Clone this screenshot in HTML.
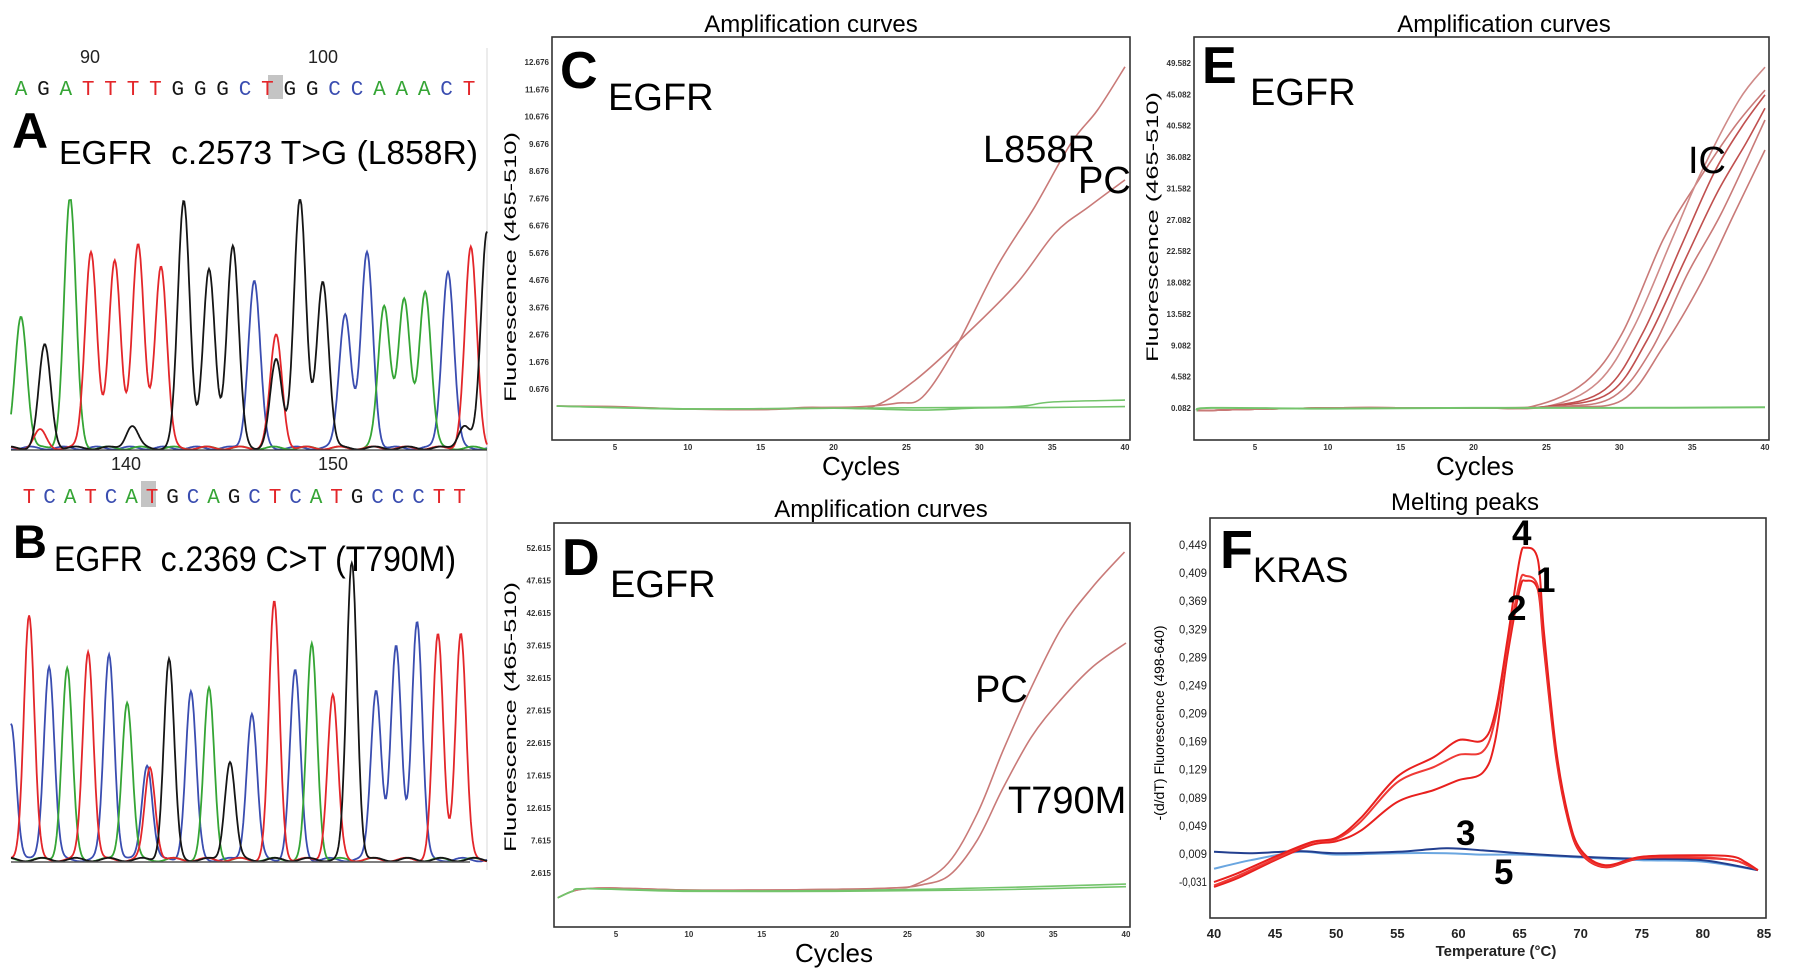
<!DOCTYPE html>
<html><head><meta charset="utf-8"><style>
html,body{margin:0;padding:0;background:#fff;}
svg{display:block;font-family:"Liberation Sans",sans-serif;}
.tk{font-size:8px;font-weight:bold;fill:#333;}
</style></head><body>
<svg id="fig" width="1795" height="979" viewBox="0 0 1795 979" xmlns="http://www.w3.org/2000/svg">
<rect width="1795" height="979" fill="#fff"/>
<line x1="487" y1="48" x2="487" y2="870" stroke="#e6e6e6" stroke-width="1.5"/>
<!-- Panel A -->
<text x="90" y="63" font-size="18" text-anchor="middle" fill="#222">90</text>
<text x="323" y="63" font-size="18" text-anchor="middle" fill="#222">100</text>
<rect x="268" y="75" width="15" height="24" fill="#c4c4c4"/>
<g id="seqA"></g>
<text x="12" y="148" font-size="50" font-weight="bold">A</text>
<text x="59" y="164" font-size="33" textLength="419" lengthAdjust="spacingAndGlyphs">EGFR&#160; c.2573 T&gt;G (L858R)</text>
<g id="chromA"></g>
<line x1="11" y1="450" x2="487" y2="450" stroke="#333" stroke-width="1.2"/>
<!-- Panel B -->
<text x="126" y="470" font-size="18" text-anchor="middle" fill="#222">140</text>
<text x="333" y="470" font-size="18" text-anchor="middle" fill="#222">150</text>
<rect x="141" y="481" width="15" height="26" fill="#c4c4c4"/>
<g id="seqB"></g>
<text x="13" y="558" font-size="47" font-weight="bold">B</text>
<text x="54" y="571" font-size="35" textLength="402" lengthAdjust="spacingAndGlyphs">EGFR&#160; c.2369 C&gt;T (T790M)</text>
<g id="chromB"></g>
<line x1="11" y1="862" x2="470" y2="862" stroke="#555" stroke-width="1.5"/>
<g id="panels"></g>
</svg>
<script>
// ---------- Sequence data ----------
const seqA = "AGATTTTGGGCTGGCCAAACT";
const seqB = "TCATCATGCAGCTCATGCCCTT";
// ---------- Chromatogram A peaks (scan units 0-1000, height %) ----------
const chromA_pos = [21,61,71,124,168,218,254,267,315,363,416,466,511,557,557,607,655,702,748,784,826,870,918,952,966,1000];
const chromA_hgt = [53,7,41,100,79,75,9,81,73,99,71,81,67,45,35,100,67,54,78,57,59,63,71,9,80,87];
const chromA_base = ["A","T","G","A","T","T","G","T","T","G","G","G","C","T","G","G","G","C","C","A","A","A","C","G","T","G"];
// ---------- Chromatogram B peaks ----------
const chromB_pos = [0,38,80,118,162,206,244,286,292,332,378,416,460,506,553,597,632,676,716,767,809,853,897,945];
const chromB_hgt = [46,82,65,64,70,69,53,32,31,67,56,57,33,49,86,63,72,55,100,57,71,80,75,76];
const chromB_base = ["C","T","C","A","T","C","A","C","T","G","C","A","G","C","T","C","A","T","G","C","C","C","T","T"];

// ---------- Panel C ----------
const cTicks = ["12.676","11.676","10.676","9.676","8.676","7.676","6.676","5.676","4.676","3.676","2.676","1.676","0.676"];
const cL858R_x = [1,5,9,12,15,18,20,22.1,24.4,26.1,28.4,31.2,33.8,36.3,38.1,40];
const cL858R_y = [0.05,0.02,-0.05,-0.06,-0.08,0.0,0.0,0.03,0.16,0.38,2.22,5.15,7.36,9.7,10.9,12.5];
const cPC_x = [1,5,10,15,20,22.7,25.6,29.2,32.6,35.2,37.5,40];
const cPC_y = [0.05,0.03,-0.06,-0.08,0.0,0.03,1.0,2.73,4.57,6.4,7.36,8.35];
const cG1_x = [1,10,20,26,30,35,40];
const cG1_y = [0.05,-0.06,-0.03,-0.1,-0.02,0.0,0.03];
const cG2_x = [1,10,20,30,33,35,40];
const cG2_y = [0.05,-0.05,-0.03,0.0,0.05,0.2,0.27];
// ---------- Panel D ----------
const dTicks = ["52.615","47.615","42.615","37.615","32.615","27.615","22.615","17.615","12.615","7.615","2.615"];
const dPC_x = [1,2,3,5,10,15,20,23.8,25.5,27.8,29.8,31.5,33.2,35.5,37.7,39.9];
const dPC_y = [-1.2,-0.2,0.2,0.3,0.0,0.0,0.1,0.3,0.77,4.15,11.8,21.1,29.7,40,46.6,52];
const dT790M_x = [1,2,3,5,10,15,20,24,26,27.9,29.8,31.5,33.5,35.5,37.7,40];
const dT790M_y = [-1.2,-0.2,0.2,0.3,0.0,0.0,0.1,0.3,0.8,2.3,7.7,15.4,23.5,29.2,34.3,38];
const dG1_x = [1,2,3,10,20,30,40];
const dG1_y = [-1.2,-0.2,0.2,-0.2,-0.2,0.0,0.5];
const dG2_x = [1,2,3,10,20,30,40];
const dG2_y = [-1.2,-0.2,0.2,-0.1,-0.1,0.3,0.9];
// ---------- Panel E ----------
const eTicks = ["49.582","45.082","40.582","36.082","31.582","27.082","22.582","18.082","13.582","9.082","4.582","0.082"];
const eA_x = [1,10,20,24,27.6,30.2,33.0,35.3,37.9,40];
const eA_y = [-0.3,0.1,0.1,0.3,3.7,10.8,24.2,32.3,40.4,45.7];
const eB_x = [1,10,20,25,28.5,31.0,33.6,35.6,38.2,40];
const eB_y = [-0.3,0.1,0.1,0.3,3.7,11.7,24.2,33.8,44.2,49];
const eC_x = [1,10,20,25,29.0,31.6,34.2,36.5,38.4,40];
const eC_y = [-0.3,0.1,0.1,0.3,2.7,10.8,23.1,33.8,40.4,45];
const eD_x = [1,10,20,25,29.3,31.9,34.5,36.7,38.7,40];
const eD_y = [-0.3,0.1,0.1,0.3,2.2,9.8,21.3,30.9,38.1,43.1];
const eE_x = [1,10,20,26,29.6,32.2,34.7,37.0,40];
const eE_y = [-0.3,0.1,0.1,0.3,1.7,8.4,19.4,28.0,41.4];
const eF_x = [1,10,20,26,30.2,33.0,35.6,37.9,40];
const eF_y = [-0.3,0.1,0.1,0.3,1.2,8.8,18.0,28.0,37.1];
const eG_x = [1,2,10,20,30,40];
const eG_y = [-0.3,0.1,0.0,0.1,0.1,0.2];
// ---------- Panel F ----------
const fTicks = ["0,449","0,409","0,369","0,329","0,289","0,249","0,209","0,169","0,129","0,089","0,049","0,009","-0,031"];
const fXTicks = [40,45,50,55,60,65,70,75,80,85];
const fRedT = [40,42,45,48,50,52,55,58,60,62,63,64,65,65.5,66.5,67,68,69,70,72,75,80,82.5,83.5,84.5];
const fRed4 = [-0.031,-0.018,0.005,0.026,0.032,0.060,0.119,0.147,0.171,0.171,0.21,0.313,0.428,0.445,0.428,0.324,0.157,0.062,0.015,-0.007,0.005,0.007,0.005,-0.003,-0.014];
const fRed1 = [-0.036,-0.022,0.002,0.025,0.030,0.055,0.111,0.133,0.150,0.155,0.2,0.305,0.395,0.405,0.39,0.31,0.15,0.06,0.012,-0.009,0.004,0.004,0.0,-0.006,-0.014];
const fRed2 = [-0.038,-0.025,0.0,0.022,0.027,0.042,0.083,0.100,0.114,0.125,0.17,0.29,0.385,0.398,0.385,0.30,0.145,0.055,0.01,-0.01,0.003,0.003,0.0,-0.006,-0.014];
const fBlueT = [40,43,47,50,55,59,62,65,70,75,80,84.5];
const fBlue3 = [0.012,0.010,0.013,0.010,0.012,0.017,0.014,0.010,0.005,0.002,0.0,-0.014];
const fBlue5 = [-0.012,0.0,0.012,0.008,0.010,0.010,0.008,0.008,0.004,0.000,-0.002,-0.014];
const cycleTicks = [5,10,15,20,25,30,35,40];

const NS = "http://www.w3.org/2000/svg";
const svg = document.getElementById('fig');
const colors = {A:"#35a535",G:"#151515",T:"#e3262a",C:"#3a4db0"};

function mk(tag, attrs, parent, text){
  const e = document.createElementNS(NS, tag);
  for (const k in attrs) e.setAttribute(k, attrs[k]);
  if (text !== undefined) e.textContent = text;
  (parent || svg).appendChild(e);
  return e;
}
function smooth(pts){
  let d = "M" + pts[0][0].toFixed(1) + "," + pts[0][1].toFixed(1);
  for (let i = 0; i < pts.length - 1; i++){
    const p0 = pts[i-1] || pts[i], p1 = pts[i], p2 = pts[i+1], p3 = pts[i+2] || p2;
    const c1 = [p1[0] + (p2[0]-p0[0])/6, p1[1] + (p2[1]-p0[1])/6];
    const c2 = [p2[0] - (p3[0]-p1[0])/6, p2[1] - (p3[1]-p1[1])/6];
    d += " C" + c1[0].toFixed(1)+","+c1[1].toFixed(1)+" "+c2[0].toFixed(1)+","+c2[1].toFixed(1)+" "+p2[0].toFixed(1)+","+p2[1].toFixed(1);
  }
  return d;
}

// ---------- sequences ----------
function drawSeq(gid, seq, x0, step, y){
  const g = document.getElementById(gid);
  for (let i = 0; i < seq.length; i++){
    const t = mk('text', {x: x0 + i*step, y: y, 'font-size': 21, 'text-anchor':'middle', 'font-family':'"Liberation Mono",monospace', fill: colors[seq[i]]}, g, seq[i]);
    
    
  }
}
drawSeq('seqA', seqA, 21, 22.4, 95);
drawSeq('seqB', seqB, 29, 20.5, 503);

// ---------- chromatograms ----------
function drawChrom(gid, pos, hgt, base, x0, x1, yBase, yTop, sigma){
  const g = document.getElementById(gid);
  const sx = s => x0 + s/1000*(x1-x0);
  const sy = h => yBase - h/100*(yBase-yTop);
  ["C","A","T","G"].forEach(b => {
    const pts = [];
    for (let s = 0; s <= 1000; s += 2){
      let h = 0.8 + 0.6*Math.sin(s*0.09 + b.charCodeAt(0));
      for (let i = 0; i < pos.length; i++){
        if (base[i] !== b) continue;
        const d = (s - pos[i]) / sigma;
        h += hgt[i] * Math.exp(-0.5*d*d);
      }
      pts.push([sx(s), sy(Math.min(h,100))]);
    }
    const p = mk('polyline', {points: pts.map(p=>p[0].toFixed(1)+","+p[1].toFixed(1)).join(" "), fill:'none', stroke: colors[b], 'stroke-width': 1.8}, g);
    
    
  });
}
drawChrom('chromA', chromA_pos, chromA_hgt, chromA_base, 11, 487, 450, 200, 12.5);
drawChrom('chromB', chromB_pos, chromB_hgt, chromB_base, 11, 487, 862, 563, 11);

// ---------- amplification panels ----------
function panel(o){
  const g = mk('g', {});
  
  
  const t = mk('text', {x:o.titleX, y:o.titleY, 'font-size':24, 'text-anchor':'middle'}, g, o.title);
  
  
  const r = mk('rect', {x:o.L, y:o.T, width:o.R-o.L, height:o.B-o.T, fill:'none', stroke:'#333', 'stroke-width':1.6}, g);
  
  
  return g;
}
function amp(o){
  const g = panel(o);
  const X = c => o.x5 + (c-5)*(o.x40-o.x5)/35;
  const Y = v => o.yHi + (o.vHi - v)*(o.yLo - o.yHi)/(o.vHi - o.vLo);
  o.ticks.forEach((lab, i) => {
    const v = o.vHi - i*(o.vHi-o.vLo)/(o.ticks.length-1);
    const t = mk('text', {x:o.L-3, y:Y(v)+3, 'text-anchor':'end', class:'tk'}, g, lab);
    
    
  });
  cycleTicks.forEach(c => {
    const t = mk('text', {x:X(c), y:o.B+10, 'text-anchor':'middle', class:'tk'}, g, c);
    
    
  });
  const xt = mk('text', {x:o.cyX, y:o.B+35, 'font-size':26, 'text-anchor':'middle'}, g, 'Cycles');
  
  
  const yt = mk('text', {x:0, y:0, 'font-size':17, 'text-anchor':'middle', transform:'translate('+o.ytX+','+o.ytY+') rotate(-90)', textLength:270, lengthAdjust:'spacingAndGlyphs'}, g, 'Fluorescence (465-510)');
  
  
  o.series.forEach(s => {
    const p = mk('path', {d: smooth(s.x.map((c,i)=>[X(c), Y(s.y[i])])), fill:'none', stroke:s.color, 'stroke-width':s.w || 1.6}, g);
    
    
  });
  const L = mk('text', {x:o.L+8, y:o.letterY, 'font-size':52, 'font-weight':'bold'}, g, o.letter);
  
  
  const G = mk('text', {x:o.L+56, y:o.letterY+22, 'font-size':38}, g, 'EGFR');
  
  
  o.labels.forEach(l => {
    const t = mk('text', {x:l[0], y:l[1], 'font-size':38}, g, l[2]);
    
    
  });
}
const red = "#c97a78", green = "#74c46c";
amp({name:'panel-c-chart', title:'Amplification curves', titleX:811, titleY:32, L:552, T:37, R:1130, B:440,
  x5:615, x40:1125, vHi:12.676, vLo:0.676, yHi:62, yLo:389, ticks:cTicks, cyX:861, ytX:516, ytY:267,
  letter:'C', letterY:88,
  labels:[[983,162,'L858R'],[1078,193,'PC']],
  series:[{name:'curve-l858r',x:cL858R_x,y:cL858R_y,color:red},{name:'curve-pc',x:cPC_x,y:cPC_y,color:red},
    {name:'curve-neg-1',x:cG1_x,y:cG1_y,color:green},{name:'curve-neg-2',x:cG2_x,y:cG2_y,color:green}]});
amp({name:'panel-d-chart', title:'Amplification curves', titleX:881, titleY:517, L:554, T:523, R:1130, B:927,
  x5:616, x40:1126, vHi:52.615, vLo:2.615, yHi:548, yLo:873, ticks:dTicks, cyX:834, ytX:516, ytY:717,
  letter:'D', letterY:575,
  labels:[[975,702,'PC'],[1008,813,'T790M']],
  series:[{name:'curve-pc',x:dPC_x,y:dPC_y,color:red},{name:'curve-t790m',x:dT790M_x,y:dT790M_y,color:red},
    {name:'curve-neg-1',x:dG1_x,y:dG1_y,color:green},{name:'curve-neg-2',x:dG2_x,y:dG2_y,color:green}]});
amp({name:'panel-e-chart', title:'Amplification curves', titleX:1504, titleY:32, L:1194, T:37, R:1769, B:440,
  x5:1255, x40:1765, vHi:49.582, vLo:0.082, yHi:63, yLo:408, ticks:eTicks, cyX:1475, ytX:1158, ytY:227,
  letter:'E', letterY:83,
  labels:[[1688,173,'IC']],
  series:[{name:'ic-curve-1',x:eA_x,y:eA_y,color:red},{name:'ic-curve-2',x:eB_x,y:eB_y,color:"#cf8a88"},
    {name:'ic-curve-3',x:eC_x,y:eC_y,color:"#c0504f"},{name:'ic-curve-4',x:eD_x,y:eD_y,color:"#c0504f"},
    {name:'ic-curve-5',x:eE_x,y:eE_y,color:red},{name:'ic-curve-6',x:eF_x,y:eF_y,color:red},
    {name:'curve-neg',x:eG_x,y:eG_y,color:green,w:2}]});

// ---------- Panel F: melting peaks ----------
(function(){
  const o = {L:1210, T:518, R:1766, B:918};
  const g = panel({name:'panel-f-chart', title:'Melting peaks', titleX:1465, titleY:510, L:o.L, T:o.T, R:o.R, B:o.B});
  const X = t => 1214 + (t-40)*(1764-1214)/45;
  const Y = v => 545 + (0.449 - v)*(882-545)/0.48;
  fTicks.forEach((lab, i) => {
    const v = 0.449 - i*0.04;
    const t = mk('text', {x:1207, y:Y(v)+4, 'text-anchor':'end', 'font-size':12, fill:'#222', textLength:28, lengthAdjust:'spacingAndGlyphs'}, g, lab);
    
    
  });
  fXTicks.forEach(v => {
    const t = mk('text', {x:X(v), y:938, 'text-anchor':'middle', 'font-size':13, 'font-weight':'bold', fill:'#222'}, g, v);
    
    
  });
  const xt = mk('text', {x:1496, y:956, 'font-size':15, 'font-weight':'bold', 'text-anchor':'middle', fill:'#222'}, g, 'Temperature (°C)');
  
  
  const yt = mk('text', {x:0, y:0, 'font-size':14, 'text-anchor':'middle', transform:'translate(1164,723) rotate(-90)', textLength:195, lengthAdjust:'spacingAndGlyphs'}, g, '-(d/dT) Fluorescence (498-640)');
  
  
  const series = [
    {name:'melt-curve-5', t:fBlueT, v:fBlue5, c:'#6aa6e0'},
    {name:'melt-curve-3', t:fBlueT, v:fBlue3, c:'#223f8f'},
    {name:'melt-curve-2', t:fRedT, v:fRed2, c:'#e8201e'},
    {name:'melt-curve-1', t:fRedT, v:fRed1, c:'#ef3a36'},
    {name:'melt-curve-4', t:fRedT, v:fRed4, c:'#e8201e'}];
  series.forEach(s => {
    const p = mk('path', {d: smooth(s.t.map((t,i)=>[X(t), Y(s.v[i])])), fill:'none', stroke:s.c, 'stroke-width':2}, g);
    
    
  });
  const F = mk('text', {x:1220, y:568, 'font-size':54, 'font-weight':'bold'}, g, 'F');
  
  
  const K = mk('text', {x:1253, y:582, 'font-size':35}, g, 'KRAS');
  
  
  [[1512,545,'4'],[1536,592,'1'],[1507,620,'2'],[1456,845,'3'],[1494,884,'5']].forEach(l => {
    const t = mk('text', {x:l[0], y:l[1], 'font-size':35, 'font-weight':'bold'}, g, l[2]);
    
    
  });
})();
</script>
</body></html>
